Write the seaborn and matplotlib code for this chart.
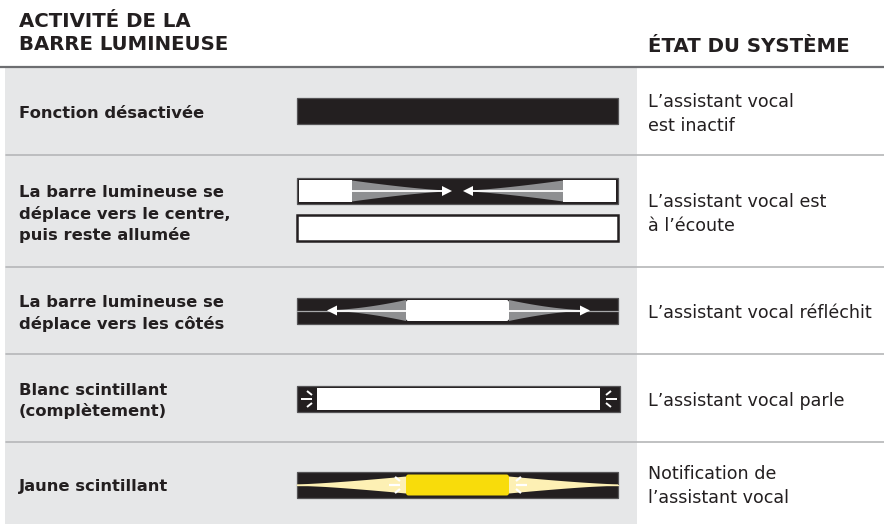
import numpy as np
import matplotlib
matplotlib.use("Agg")
import matplotlib.pyplot as plt
from matplotlib.patches import Rectangle, Polygon, FancyBboxPatch
import seaborn as sns

# Table content
header_left = "ACTIVITÉ DE LA\nBARRE LUMINEUSE"
header_right = "ÉTAT DU SYSTÈME"
activity_labels = [
    "Fonction désactivée",
    "La barre lumineuse se\ndéplace vers le centre,\npuis reste allumée",
    "La barre lumineuse se\ndéplace vers les côtés",
    "Blanc scintillant\n(complètement)",
    "Jaune scintillant",
]
state_labels = [
    "L’assistant vocal\nest inactif",
    "L’assistant vocal est\nà l’écoute",
    "L’assistant vocal réfléchit",
    "L’assistant vocal parle",
    "Notification de\nl’assistant vocal",
]
bar_modes = ["off", "converge", "diverge", "sparkle_white", "sparkle_yellow"]

# Layout (pixel units)
W, H = 884, 524
row_edges = [67, 155, 267, 354, 442, 524]
bar_x0, bar_x1, bar_h = 297, 618, 26
block_x0, block_x1 = 406, 509

DARK = "#231f20"
PANEL = "#e6e7e8"
SEP = "#b5b6b8"
GREY = "#8e8f91"
YELLOW = "#f8dc0b"
PALE = "#fdf0b4"

sns.set_theme(style="white")
plt.rcParams["font.family"] = ["DejaVu Sans"]

fig = plt.figure(figsize=(W / 100, H / 100), dpi=100)
ax = fig.add_axes([0, 0, 1, 1])
ax.set_xlim(0, W)
ax.set_ylim(H, 0)
ax.axis("off")


def base_bar(cy, face=DARK):
    ax.add_patch(Rectangle((bar_x0, cy - bar_h / 2), bar_x1 - bar_x0, bar_h,
                           facecolor=face, edgecolor="#555456", lw=0.9, zorder=3))


def taper(xa, xb, cy, h0, h1, p, color):
    # half height h0 at xa shrinking to h1 at xb
    t = np.linspace(0, 1, 60)
    xs = xa + (xb - xa) * t
    hs = h1 + (h0 - h1) * (1 - t) ** p
    pts = np.concatenate([np.column_stack([xs, cy - hs]),
                          np.column_stack([xs[::-1], cy + hs[::-1]])])
    ax.add_patch(Polygon(pts, closed=True, facecolor=color, edgecolor="none", zorder=4))


def arrow(xa, xb, cy):
    # white line from xa with head at xb
    d = np.sign(xb - xa)
    ax.plot([xa, xb - d * 6], [cy, cy], color="white", lw=1.3, zorder=6,
            solid_capstyle="butt")
    ax.add_patch(Polygon([[xb, cy], [xb - d * 10, cy - 5], [xb - d * 10, cy + 5]],
                         closed=True, facecolor="white", edgecolor="none", zorder=6))


def block(cy, color):
    ax.add_patch(FancyBboxPatch((block_x0, cy - 10.5), block_x1 - block_x0, 21,
                                boxstyle="round,pad=0,rounding_size=2.5",
                                facecolor=color, edgecolor="none", zorder=7))


def sparks(x, cy, d, lw=1.4):
    # three short rays, d = +1 points rightwards
    segs = [([x, x + d * 11], [cy, cy]),
            ([x + d * 6, x + d * 11], [cy - 8, cy - 4]),
            ([x + d * 6, x + d * 11], [cy + 8, cy + 4])]
    for xs, ys in segs:
        ax.plot(xs, ys, color="white", lw=lw, zorder=8, solid_capstyle="butt")


# background panel and rules
ax.add_patch(Rectangle((5, row_edges[0]), 632, H - row_edges[0],
                       facecolor=PANEL, edgecolor="none", zorder=0))
ax.plot([0, W], [row_edges[0], row_edges[0]], color="#6d6e71", lw=1.6, zorder=1)
for y in row_edges[1:-1]:
    ax.plot([6, W], [y, y], color=SEP, lw=1.2, zorder=1)

# headers
ax.text(19, 33, header_left, fontsize=14.2, fontweight="bold", color=DARK,
        va="center", ha="left", linespacing=1.3)
ax.text(648, 46, header_right, fontsize=14.2, fontweight="bold", color=DARK,
        va="center", ha="left")

for i, (lab, state, mode) in enumerate(zip(activity_labels, state_labels, bar_modes)):
    cy = (row_edges[i] + row_edges[i + 1]) / 2
    ax.text(19, cy + 3, lab, fontsize=11.8, fontweight="bold", color=DARK,
            va="center", ha="left", linespacing=1.43)
    ax.text(648, cy + 3, state, fontsize=12.6, color=DARK,
            va="center", ha="left", linespacing=1.36)

    if mode == "off":
        base_bar(cy)
    elif mode == "converge":
        c1, c2 = cy - 20, cy + 17
        base_bar(c1)
        ax.add_patch(Rectangle((bar_x0 + 2, c1 - 11), 53, 22, facecolor="white",
                               edgecolor="none", zorder=5))
        ax.add_patch(Rectangle((bar_x1 - 55, c1 - 11), 53, 22, facecolor="white",
                               edgecolor="none", zorder=5))
        taper(352, 446, c1, 10.5, 0.6, 1.3, GREY)
        taper(563, 469, c1, 10.5, 0.6, 1.3, GREY)
        arrow(352, 452, c1)
        arrow(563, 463, c1)
        ax.add_patch(Rectangle((bar_x0, c2 - bar_h / 2), bar_x1 - bar_x0, bar_h,
                               facecolor="white", edgecolor=DARK, lw=1.8, zorder=3))
    elif mode == "diverge":
        base_bar(cy)
        ax.plot([bar_x0, bar_x1], [cy, cy], color="#a7a8aa", lw=0.9, zorder=4)
        taper(block_x0, 331, cy, 10.5, 0.5, 1.6, GREY)
        taper(block_x1, 584, cy, 10.5, 0.5, 1.6, GREY)
        arrow(block_x0, 327, cy)
        arrow(block_x1, 590, cy)
        block(cy, "white")
    elif mode == "sparkle_white":
        c = cy + 1
        ax.add_patch(Rectangle((bar_x0, c - bar_h / 2), 323, bar_h,
                               facecolor=DARK, edgecolor="#555456", lw=0.9, zorder=3))
        ax.add_patch(Rectangle((317, c - 11), 283, 22, facecolor="white",
                               edgecolor="none", zorder=5))
        sparks(301, c, 1)
        sparks(617, c, -1)
    elif mode == "sparkle_yellow":
        c = cy + 2
        base_bar(c)
        ax.plot([bar_x0, bar_x1], [c, c], color=PALE, lw=1.0, zorder=4)
        taper(block_x0, bar_x0, c, 8.5, 0.6, 1.3, PALE)
        taper(block_x1, bar_x1, c, 8.5, 0.6, 1.3, PALE)
        block(c, YELLOW)
        sparks(389, c, 1, lw=1.6)
        sparks(527, c, -1, lw=1.6)

fig.savefig("out.png", dpi=100)
